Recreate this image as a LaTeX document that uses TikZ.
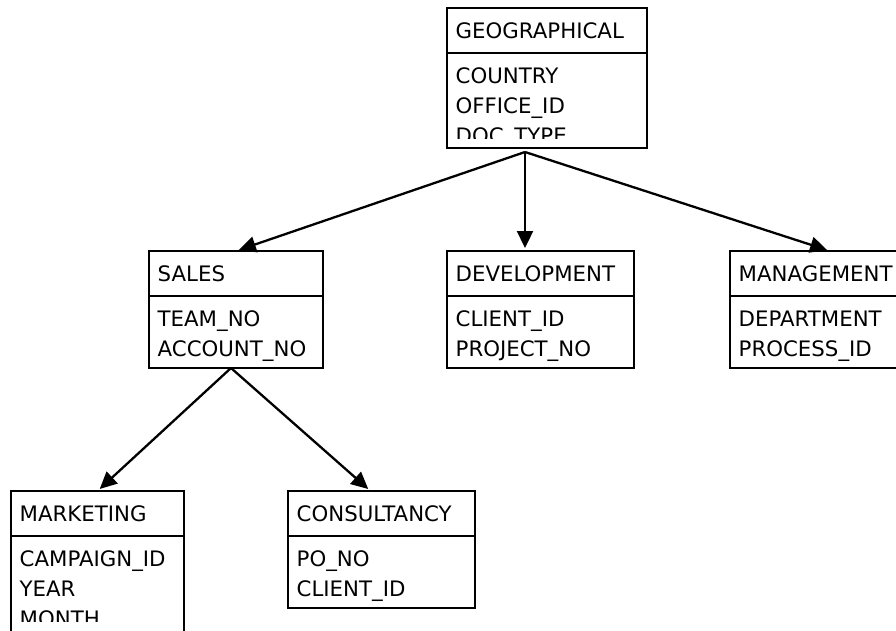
\documentclass[tikz,border=0pt]{standalone}
\usepackage{fontspec}
\setmainfont{DejaVu Sans}
\usetikzlibrary{arrows.meta}
\begin{document}
\begin{tikzpicture}[x=1pt,y=-1pt,
  box/.style={draw, line width=2pt, rectangle, inner sep=0pt, outer sep=0pt, anchor=north west},
  rule/.style={line width=2pt},
  lbl/.style={anchor=base west, inner sep=0pt, font=\fontsize{21.3}{24}\selectfont},
  arr/.style={line width=2.3pt, -{Triangle[length=17pt,width=16pt]}, shorten >=3pt}]
\useasboundingbox (0,0) rectangle (896,630);
\clip (0,0) rectangle (896,630);

% class boxes
\node[box, minimum width=200pt, minimum height=140pt] (geo)   at (447,8)   {};
\node[box, minimum width=174pt, minimum height=117pt] (sales) at (149,251) {};
\node[box, minimum width=187pt, minimum height=117pt] (dev)   at (447,251) {};
\node[box, minimum width=200pt, minimum height=117pt] (mgmt)  at (730,251) {};
\node[box, minimum width=173pt, minimum height=160pt] (mkt)   at (11,491)  {};
\node[box, minimum width=187pt, minimum height=117pt] (cons)  at (288,491) {};

% header dividers
\foreach \b in {geo,sales,dev,mgmt,mkt,cons}
  \draw[rule] ([yshift=-45pt]\b.north west) -- ([yshift=-45pt]\b.north east);

% headers
\node[lbl] (geo-h)   at ([xshift=8.5pt,yshift=-30pt]geo.north west)   {GEOGRAPHICAL};
\node[lbl] (sales-h) at ([xshift=8.5pt,yshift=-30pt]sales.north west) {SALES};
\node[lbl] (dev-h)   at ([xshift=8.5pt,yshift=-30pt]dev.north west)   {DEVELOPMENT};
\node[lbl] (mgmt-h)  at ([xshift=8.5pt,yshift=-30pt]mgmt.north west)  {MANAGEMENT};
\node[lbl] (mkt-h)   at ([xshift=8.5pt,yshift=-30pt]mkt.north west)   {MARKETING};
\node[lbl] (cons-h)  at ([xshift=8.5pt,yshift=-30pt]cons.north west)  {CONSULTANCY};

% attributes
\begin{scope}
  \clip (geo.north west) rectangle ([yshift=-130pt]geo.north east);
  \node[lbl] (geo-1) at ([xshift=8.5pt,yshift=-75pt]geo.north west)  {COUNTRY};
  \node[lbl] (geo-2) at ([xshift=8.5pt,yshift=-105pt]geo.north west) {OFFICE\_ID};
  \node[lbl] (geo-3) at ([xshift=8.5pt,yshift=-135pt]geo.north west) {DOC\_TYPE};
\end{scope}
\node[lbl] (sales-1) at ([xshift=8.5pt,yshift=-75pt]sales.north west)  {TEAM\_NO};
\node[lbl] (sales-2) at ([xshift=8.5pt,yshift=-105pt]sales.north west) {ACCOUNT\_NO};
\node[lbl] (dev-1)   at ([xshift=8.5pt,yshift=-75pt]dev.north west)    {CLIENT\_ID};
\node[lbl] (dev-2)   at ([xshift=8.5pt,yshift=-105pt]dev.north west)   {PROJECT\_NO};
\node[lbl] (mgmt-1)  at ([xshift=8.5pt,yshift=-75pt]mgmt.north west)   {DEPARTMENT};
\node[lbl] (mgmt-2)  at ([xshift=8.5pt,yshift=-105pt]mgmt.north west)  {PROCESS\_ID};
\begin{scope}
  \clip (mkt.north west) rectangle ([yshift=-130pt]mkt.north east);
  \node[lbl] (mkt-1) at ([xshift=8.5pt,yshift=-75pt]mkt.north west)  {CAMPAIGN\_ID};
  \node[lbl] (mkt-2) at ([xshift=8.5pt,yshift=-105pt]mkt.north west) {YEAR};
  \node[lbl] (mkt-3) at ([xshift=8.5pt,yshift=-135pt]mkt.north west) {MONTH};
\end{scope}
\node[lbl] (cons-1)  at ([xshift=8.5pt,yshift=-75pt]cons.north west)   {PO\_NO};
\node[lbl] (cons-2)  at ([xshift=8.5pt,yshift=-105pt]cons.north west)  {CLIENT\_ID};

% hierarchy arrows
\coordinate (geo-out)   at ([xshift=-22pt,yshift=-4pt]geo.south);
\coordinate (sales-out) at ([xshift=-5pt]sales.south);
\draw[arr] (geo-out) -- (sales.north);
\draw[arr] (geo-out) -- (geo-out |- dev.north);
\draw[arr] (geo-out) -- (mgmt.north);
\draw[arr] (sales-out) -- (mkt.north);
\draw[arr] (sales-out) -- ([xshift=-11pt]cons.north);
\end{tikzpicture}
\end{document}
